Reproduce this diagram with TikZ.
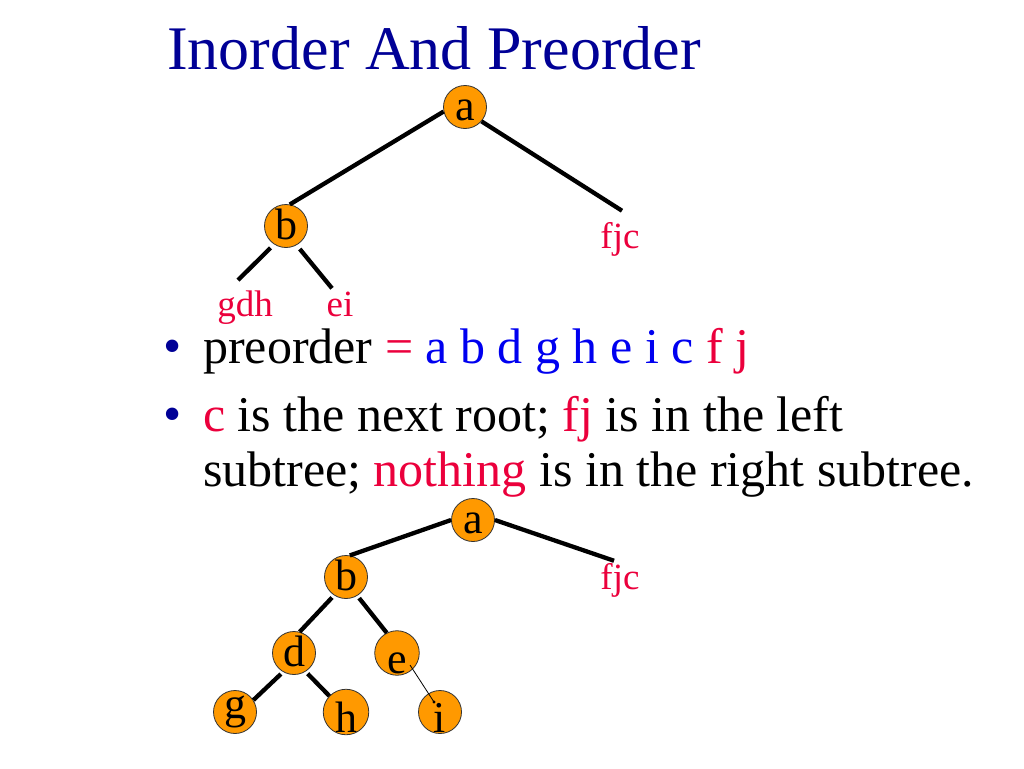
\documentclass[tikz,border=0pt]{standalone}
\usepackage{fontspec}
\setmainfont{Liberation Serif}
\definecolor{navy}{RGB}{0,0,150}
\definecolor{myblue}{RGB}{0,0,240}
\definecolor{myred}{RGB}{235,0,60}
\definecolor{nodeorange}{RGB}{255,153,0}
\begin{document}
\begin{tikzpicture}[x=1pt,y=-1pt,
  nd/.style={circle,fill=nodeorange,draw=black!80,line width=0.8pt,minimum size=43pt,inner sep=0pt,
    font=\fontsize{44}{44}\selectfont,text height=26pt,text depth=0pt},
  lowtext/.style={text height=40pt},
  link/.style={line width=4.3pt},
  thinlink/.style={line width=0.8pt},
  leaf/.style={text=myred,font=\fontsize{37}{37}\selectfont,inner sep=0pt,anchor=base},
  body/.style={anchor=base west,inner sep=0pt,font=\fontsize{50}{60}\selectfont},
  bul/.style={text=navy,inner sep=0pt,anchor=base,font=\fontsize{52}{52}\selectfont},
  titletext/.style={anchor=base west,inner sep=0pt,text=navy,font=\fontsize{62}{70}\selectfont}]
\useasboundingbox (0,0) rectangle (1024,768);

% title
\node[titletext] (title) at (167,70) {Inorder And Preorder};

% top tree
\node[nd] (a1) at (465,107) {a};
\node[nd] (b1) at (286,226) {b};
\node[leaf] (fjc1) at (620,248) {fjc};
\node[leaf] (gdh) at (245,316) {gdh};
\node[leaf] (ei) at (340,316) {ei};
\draw[link] (a1.192) -- (b1.80);
\draw[link] (a1.319) -- ([xshift=2pt,yshift=11pt]fjc1.north);
\draw[link,shorten <=5pt] (b1.237) -- ([xshift=-7pt,yshift=10pt]gdh.north);
\draw[link,shorten <=5pt] (b1.299) -- ([xshift=-8pt,yshift=3pt]ei.north);

% bullets
\node[bul] (bul1) at (173,363) {•};
\node[bul] (bul2) at (173,431) {•};
\node[body] (line1) at (203,363) {preorder {\color{myred}=} {\color{myblue}a b d g h e i c} {\color{myred}f j}};
\node[body] (line2) at (203,431) {{\color{myred}c} is the next root; {\color{myred}fj} is in the left};
\node[body] (line3) at (203,486) {subtree; {\color{myred}nothing} is in the right subtree.};

% bottom tree
\node[nd] (a2) at (473,520) {a};
\node[nd] (b2) at (346,577) {b};
\node[nd] (d2) at (294,653) {d};
\node[nd,lowtext] (e2) at (397,653) {e};
\node[nd,text height=12pt] (g2) at (235,712) {g};
\node[nd,lowtext] (h2) at (346,712) {h};
\node[nd,lowtext] (i2) at (440,712) {i};
\node[leaf] (fjc2) at (620,589) {fjc};
\draw[link] (a2.180) -- (b2.80);
\draw[link] (a2.0) -- ([xshift=-6pt,yshift=2pt]fjc2.north);
\draw[link,shorten <=3pt] (b2.237) -- (d2.75);
\draw[link,shorten <=3pt] (b2.301) -- (e2.117);
\draw[link,shorten <=3pt] (d2.240) -- (g2.33);
\draw[link,shorten <=3pt] (d2.302) -- (h2.136);
\coordinate (iend) at ([shift={(-6,-10)}]i2.center);
\draw[thinlink] ([shift={(13,12)}]e2.center) -- (iend);
\fill (iend) circle (1.6pt);
\end{tikzpicture}
\end{document}
